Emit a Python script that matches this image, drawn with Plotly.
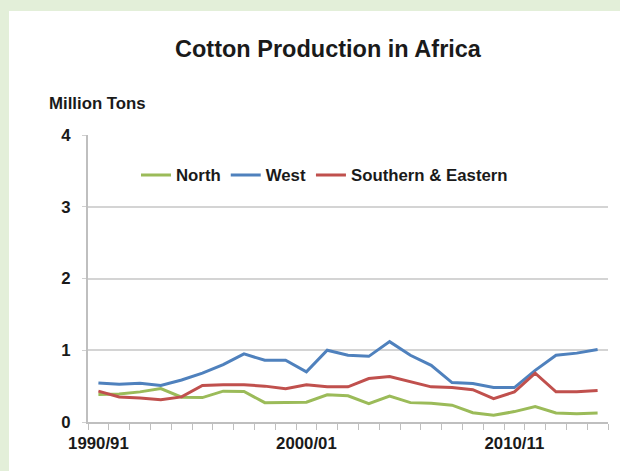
import plotly.graph_objects as go

# Marketing seasons on the x axis
seasons = [
    "1990/91", "1991/92", "1992/93", "1993/94", "1994/95", "1995/96", "1996/97",
    "1997/98", "1998/99", "1999/00", "2000/01", "2001/02", "2002/03", "2003/04",
    "2004/05", "2005/06", "2006/07", "2007/08", "2008/09", "2009/10", "2010/11",
    "2011/12", "2012/13", "2013/14", "2014/15",
]
labelled_seasons = ["1990/91", "2000/01", "2010/11"]

# Production, million tons
north = [0.385, 0.39, 0.42, 0.465, 0.345, 0.34, 0.43, 0.425, 0.27, 0.275,
         0.275, 0.38, 0.365, 0.255, 0.36, 0.27, 0.26, 0.235, 0.13, 0.095,
         0.145, 0.215, 0.125, 0.115, 0.125]
west = [0.545, 0.525, 0.54, 0.51, 0.585, 0.68, 0.80, 0.95, 0.86, 0.86,
        0.70, 1.0, 0.93, 0.915, 1.12, 0.93, 0.79, 0.55, 0.535, 0.48,
        0.48, 0.72, 0.93, 0.96, 1.01]
south_east = [0.43, 0.35, 0.335, 0.31, 0.35, 0.51, 0.52, 0.52, 0.50, 0.465,
              0.52, 0.49, 0.49, 0.605, 0.635, 0.56, 0.49, 0.48, 0.45, 0.325,
              0.42, 0.68, 0.42, 0.42, 0.44]

series = [
    ("North", north, "#9bbb59"),
    ("West", west, "#4f81bd"),
    ("Southern & Eastern", south_east, "#c0504d"),
]

FONT = "Liberation Sans, Arial, sans-serif"
TEXT = "#1a1a1a"
FS = 16.8
x_idx = list(range(len(seasons)))

fig = go.Figure()
for name, values, color in series:
    fig.add_trace(go.Scatter(
        x=x_idx, y=values, name=name, mode="lines",
        line=dict(color=color, width=3),
        hovertext=seasons,
    ))

W, H = 620, 471
ML, MR, MT, MB = 88, 12, 135, 49
pw = W - ML - MR
ph = H - MT - MB

def px_x(p):
    return (p - ML) / pw

def px_y(p):
    return (H - MB - p) / ph

fig.update_layout(
    width=W, height=H,
    margin=dict(l=ML, r=MR, t=MT, b=MB),
    paper_bgcolor="#e3efd9",
    plot_bgcolor="rgba(0,0,0,0)",
    font=dict(family=FONT, size=FS, color=TEXT),
    title=dict(
        text="<b>Cotton Production in Africa</b>",
        font=dict(family=FONT, size=23.5, color=TEXT),
        x=328 / W, xanchor="center", y=1 - 49 / H, yanchor="middle",
    ),
    showlegend=True,
    legend=dict(
        orientation="h",
        x=px_x(136), xanchor="left",
        y=px_y(175), yanchor="middle",
        bgcolor="rgba(0,0,0,0)",
        font=dict(family=FONT, size=FS, color=TEXT, weight="bold"),
    ),
    shapes=[dict(
        type="rect", xref="paper", yref="paper", layer="below",
        x0=px_x(9), x1=px_x(W + 5), y0=px_y(H + 5), y1=px_y(11),
        fillcolor="white", line=dict(width=0),
    )],
    annotations=[dict(
        text="<b>Million Tons</b>", xref="paper", yref="paper",
        x=px_x(47), xanchor="left", y=px_y(103), yanchor="middle",
        showarrow=False, font=dict(family=FONT, size=FS, color=TEXT),
    )],
)

fig.update_xaxes(
    range=[-0.5, len(seasons) - 0.5],
    tickmode="array",
    tickvals=[seasons.index(s) for s in labelled_seasons],
    ticktext=labelled_seasons,
    ticks="",
    tickfont=dict(family=FONT, size=FS, color=TEXT, weight="bold"),
    ticklabelstandoff=5,
    showgrid=False, zeroline=False,
    showline=True, linecolor="#bfbfbf", linewidth=2,
    minor=dict(tickmode="linear", tick0=-0.5, dtick=1, ticks="outside",
               ticklen=6, tickcolor="#bfbfbf", tickwidth=1, showgrid=False),
)
fig.update_yaxes(
    range=[0, 4],
    tickmode="linear", tick0=0, dtick=1,
    ticks="outside", ticklen=4, tickcolor="#d0d0d0", tickwidth=1,
    tickfont=dict(family=FONT, size=FS, color=TEXT, weight="bold"),
    ticklabelstandoff=8,
    showgrid=True, gridcolor="#d4d4d4", gridwidth=1.5,
    zeroline=False,
    showline=True, linecolor="#bfbfbf", linewidth=2,
)

fig.write_html("out.html")
